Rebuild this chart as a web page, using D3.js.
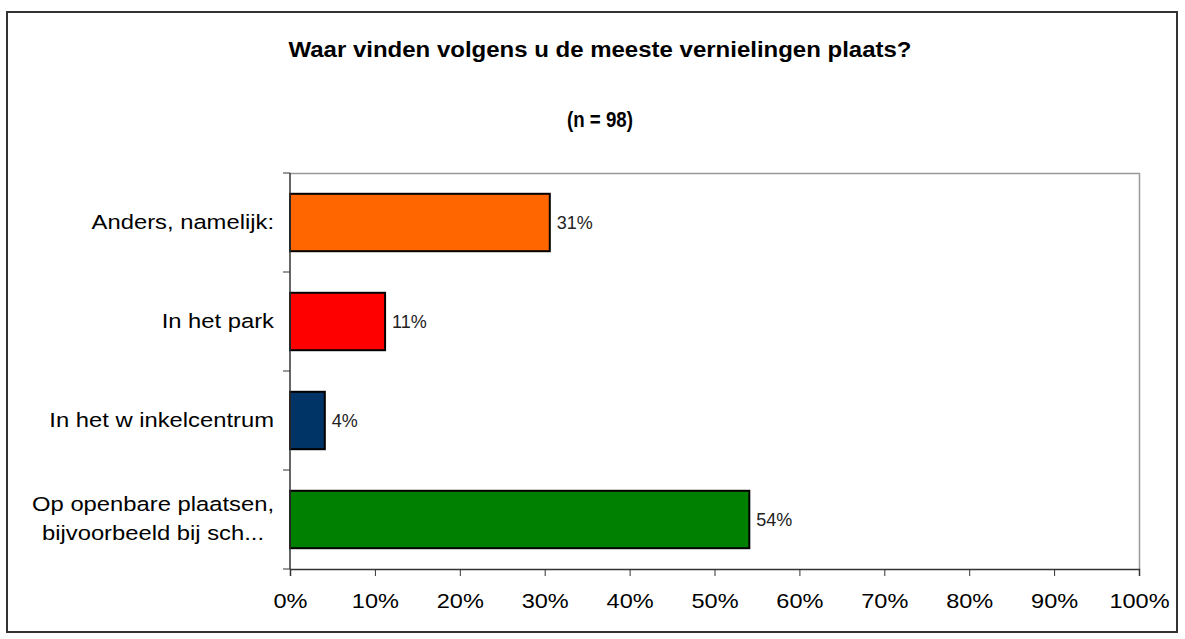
<!DOCTYPE html>
<html><head><meta charset="utf-8">
<script src="https://cdn.jsdelivr.net/npm/d3@7"></script>
<style>body{margin:0;background:#fff}svg{display:block}</style>
</head><body>
<svg id="c" width="1185" height="639"></svg>
<script>
const categories = ["Anders, namelijk:", "In het park", "In het w inkelcentrum", "Op openbare plaatsen,\nbijvoorbeeld bij sch..."];
const values = [30.6, 11.2, 4.1, 54.1];
const valueLabels = ["31%", "11%", "4%", "54%"];
const colors = ["#FF6600", "#FF0000", "#003366", "#008000"];
const xTicks = [0,10,20,30,40,50,60,70,80,90,100];
const title = "Waar vinden volgens u de meeste vernielingen plaats?";
const subtitle = "(n = 98)";

const svg = d3.select("#c");
svg.append("rect").attr("x",7).attr("y",12).attr("width",1170).attr("height",620)
  .attr("fill","#fff").attr("stroke","#333").attr("stroke-width",2);

const L=290, R=1139, T=173, B=569;
const x = d3.scaleLinear().domain([0,100]).range([L,R]);
const y = d3.scaleBand().domain(categories).range([T,B]).paddingInner(0.42).paddingOuter(0.21);

function stretch(sel, k){
  sel.each(function(){
    const n = this.getComputedTextLength();
    d3.select(this).attr("textLength", n*k).attr("lengthAdjust","spacingAndGlyphs");
  });
}

// plot frame top/right
svg.append("path").attr("d",`M${L},${T+0.5}H${R+0.5}V${B}`).attr("fill","none").attr("stroke","#999").attr("stroke-width",1.5);

const font = "'Liberation Sans', Arial, sans-serif";
svg.append("text").attr("x",600).attr("y",57).attr("text-anchor","middle")
  .attr("font-family",font).attr("font-weight","bold").attr("font-size",22)
  .attr("textLength",623).attr("lengthAdjust","spacingAndGlyphs").text(title);
svg.append("text").attr("x",600).attr("y",127).attr("text-anchor","middle")
  .attr("font-family",font).attr("font-weight","bold").attr("font-size",22)
  .attr("textLength",66).attr("lengthAdjust","spacingAndGlyphs").text(subtitle);

svg.selectAll("rect.bar").data(categories).enter().append("rect").attr("class","bar")
  .attr("x",x(0)).attr("y",d=>y(d)).attr("width",(d,i)=>x(values[i])-x(0)).attr("height",y.bandwidth())
  .attr("fill",(d,i)=>colors[i]).attr("stroke","#000").attr("stroke-width",2);

svg.selectAll("text.vl").data(categories).enter().append("text").attr("class","vl")
  .attr("x",(d,i)=>x(values[i])+7).attr("y",d=>y(d)+y.bandwidth()/2+6)
  .attr("font-family",font).attr("font-size",18).attr("fill","#222").text((d,i)=>valueLabels[i]);

// x axis
const xa = svg.append("g").attr("transform",`translate(0,${B})`)
  .call(d3.axisBottom(x).tickValues(xTicks).tickSize(7).tickFormat(d=>d+"%"));
xa.select(".domain").attr("stroke","#333").attr("stroke-width",1.5);
xa.selectAll(".tick line").attr("stroke","#333");
xa.selectAll(".tick text").attr("font-family",font).attr("font-size",21).attr("fill","#000").attr("y",18).attr("dy","1em");
stretch(xa.selectAll(".tick text"), 1.12);

// y axis
const yEdge = d3.scaleLinear().domain([0,4]).range([T,B]);
svg.append("line").attr("x1",L).attr("x2",L).attr("y1",T).attr("y2",B).attr("stroke","#333").attr("stroke-width",1.5);
svg.selectAll("line.yt").data(d3.range(5)).enter().append("line").attr("class","yt")
  .attr("x1",L-7).attr("x2",L).attr("y1",d=>yEdge(d)).attr("y2",d=>yEdge(d)).attr("stroke","#333");

const K = 1.16, labelRight = 274;
svg.selectAll("text.cl").data(categories).enter().append("text").attr("class","cl")
  .attr("font-family",font).attr("font-size",20.5).attr("fill","#000")
  .each(function(d){
    const lines = d.split("\n");
    const cy = y(d)+y.bandwidth()/2;
    const t = d3.select(this);
    const spans = lines.map((ln,k)=> t.append("tspan").attr("y",cy+6+(k-(lines.length-1)/2)*29).text(ln));
    const widths = spans.map(s=>s.node().getComputedTextLength()*K);
    const maxW = d3.max(widths);
    spans.forEach((s,k)=>{
      s.attr("textLength",widths[k]).attr("lengthAdjust","spacingAndGlyphs");
      if(lines.length>1){ s.attr("text-anchor","middle").attr("x",labelRight-maxW/2); }
      else { s.attr("text-anchor","end").attr("x",labelRight); }
    });
  });
</script>
</body></html>
